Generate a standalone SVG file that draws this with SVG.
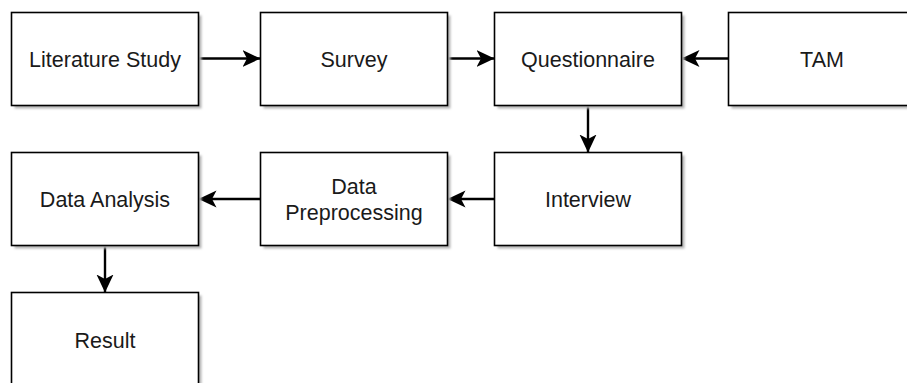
<svg xmlns="http://www.w3.org/2000/svg" width="907" height="383" viewBox="0 0 907 383">
<style>
.box{fill:#fff;stroke:#000;stroke-width:1.6}
.sh{fill:#b5b5b5}
.t{font-family:"Liberation Sans",Arial,sans-serif;font-size:21.5px;fill:#1a1a1a;text-anchor:middle}
.c{stroke:#000;stroke-width:2.4;fill:none}
</style>
<defs>
<filter id="blur" x="-5%" y="-5%" width="110%" height="110%"><feGaussianBlur stdDeviation="0.8"/></filter>
<marker id="ah" markerUnits="userSpaceOnUse" markerWidth="20" markerHeight="20" viewBox="0 0 20 20" refX="18" refY="10" orient="auto">
<path d="M18,10 L0,1.5 L4.5,10 L0,18.5 Z" fill="#000"/>
</marker>
</defs>
<rect width="907" height="383" fill="#fff"/>
<g id="connectors">
<line class="c" x1="198.5" y1="58.5" x2="260.5" y2="58.5" marker-end="url(#ah)"/>
<line class="c" x1="447.5" y1="58.5" x2="494.5" y2="58.5" marker-end="url(#ah)"/>
<line class="c" x1="728.5" y1="58.5" x2="681.5" y2="58.5" marker-end="url(#ah)"/>
<line class="c" x1="588" y1="105.5" x2="588" y2="152.5" marker-end="url(#ah)"/>
<line class="c" x1="494.5" y1="199" x2="447.5" y2="199" marker-end="url(#ah)"/>
<line class="c" x1="260.5" y1="199" x2="198.5" y2="199" marker-end="url(#ah)"/>
<line class="c" x1="105" y1="245.5" x2="105" y2="292.5" marker-end="url(#ah)"/>
</g>
<g id="literature-study">
<rect class="sh" x="14.5" y="15.5" width="187" height="93" filter="url(#blur)"/>
<rect class="box" x="11.5" y="12.5" width="187" height="93"/>
<text class="t" x="105" y="66.5">Literature Study</text>
</g>
<g id="survey">
<rect class="sh" x="263.5" y="15.5" width="187" height="93" filter="url(#blur)"/>
<rect class="box" x="260.5" y="12.5" width="187" height="93"/>
<text class="t" x="354" y="66.5">Survey</text>
</g>
<g id="questionnaire">
<rect class="sh" x="497.5" y="15.5" width="187" height="93" filter="url(#blur)"/>
<rect class="box" x="494.5" y="12.5" width="187" height="93"/>
<text class="t" x="588" y="66.5">Questionnaire</text>
</g>
<g id="tam">
<rect class="sh" x="731.5" y="15.5" width="187" height="93" filter="url(#blur)"/>
<rect class="box" x="728.5" y="12.5" width="187" height="93"/>
<text class="t" x="822" y="66.5">TAM</text>
</g>
<g id="interview">
<rect class="sh" x="497.5" y="155.5" width="187" height="93" filter="url(#blur)"/>
<rect class="box" x="494.5" y="152.5" width="187" height="93"/>
<text class="t" x="588" y="207">Interview</text>
</g>
<g id="data-preprocessing">
<rect class="sh" x="263.5" y="155.5" width="187" height="93" filter="url(#blur)"/>
<rect class="box" x="260.5" y="152.5" width="187" height="93"/>
<text class="t" x="354" y="193.5">Data</text>
<text class="t" x="354" y="219.5">Preprocessing</text>
</g>
<g id="data-analysis">
<rect class="sh" x="14.5" y="155.5" width="187" height="93" filter="url(#blur)"/>
<rect class="box" x="11.5" y="152.5" width="187" height="93"/>
<text class="t" x="105" y="207">Data Analysis</text>
</g>
<g id="result">
<rect class="sh" x="14.5" y="295.5" width="187" height="93" filter="url(#blur)"/>
<rect class="box" x="11.5" y="292.5" width="187" height="93"/>
<text class="t" x="105" y="347.5">Result</text>
</g>
</svg>
